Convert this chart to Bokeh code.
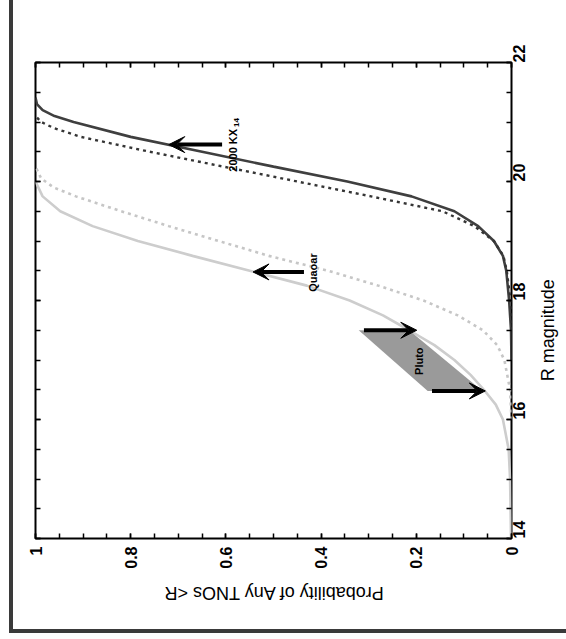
import math
import numpy as np
from bokeh.plotting import figure
from bokeh.models import (Range1d, FixedTicker, LinearAxis, ColumnDataSource, Arrow,
                          VeeHead, Div, Grid)
from bokeh.layouts import column, row
from bokeh.core.properties import value
from bokeh.embed import file_html
from bokeh.resources import INLINE

# ---------------- data ----------------
quaoar_solid_R = [14.0, 14.5, 15.0, 15.5, 16.0, 16.25, 16.5, 16.75, 17.0, 17.25, 17.5,
                  17.75, 18.0, 18.25, 18.5, 18.75, 19.0, 19.25, 19.5, 19.75, 20.0]
quaoar_solid_p = [0.001, 0.002, 0.003, 0.006, 0.018, 0.033, 0.058, 0.086, 0.12, 0.162, 0.215,
                  0.27, 0.34, 0.43, 0.55, 0.67, 0.785, 0.88, 0.948, 0.985, 1.0]

quaoar_dot_R = [16.0, 16.5, 17.0, 17.25, 17.5, 17.75, 18.0, 18.25, 18.5, 18.75, 19.0,
                19.25, 19.5, 19.75, 19.9, 20.05, 20.25]
quaoar_dot_p = [0.0, 0.003, 0.015, 0.03, 0.06, 0.113, 0.185, 0.28, 0.385, 0.51, 0.615,
                0.72, 0.82, 0.915, 0.962, 0.988, 1.0]

kx14_solid_R = [17.0, 17.5, 18.0, 18.5, 18.75, 19.0, 19.25, 19.5, 19.75, 20.0, 20.25,
                20.5, 20.75, 21.0, 21.1, 21.2, 21.3, 21.41]
kx14_solid_p = [0.0, 0.001, 0.005, 0.011, 0.018, 0.037, 0.07, 0.12, 0.21, 0.345, 0.5,
                0.65, 0.8, 0.92, 0.96, 0.985, 0.997, 1.0]

kx14_dot_R = [17.5, 18.0, 18.5, 18.75, 19.0, 19.25, 19.5, 19.75, 20.0, 20.25, 20.5,
              20.75, 20.9, 21.0, 21.1]
kx14_dot_p = [0.0, 0.002, 0.01, 0.017, 0.037, 0.078, 0.145, 0.295, 0.45, 0.605, 0.76,
              0.905, 0.962, 0.988, 1.0]

pluto_box_p = [0.321, 0.212, 0.061, 0.176]
pluto_box_R = [17.50, 17.48, 16.48, 16.48]

arrow_R = [20.62, 18.48, 17.50, 16.48]
arrow_p_from = [0.608, 0.436, 0.310, 0.167]
arrow_p_to = [0.720, 0.543, 0.199, 0.055]

label_text = ["2000 KX", "Quaoar", "Pluto"]
label_p = [0.585, 0.418, 0.195]
label_R = [20.525, 18.47, 16.98]
sub_text = ["14"]
sub_p = [0.577]
sub_R = [20.99]

prob_ticks = [0, 0.2, 0.4, 0.6, 0.8, 1]
prob_labels = ["0", "0.2", "0.4", "0.6", "0.8", "1"]
mag_ticks = [14, 16, 18, 20, 22]
mag_labels = ["14", "16", "18", "20", "22"]

x_title = "Probability of Any TNOs <R"
y_title = "R magnitude"

FONT = "Liberation Sans"
LINK = "#3a3a3a"


def bare(fig):
    for r in list(fig.center):
        if isinstance(r, Grid):
            r.visible = False
    fig.outline_line_color = None
    fig.background_fill_color = None
    fig.border_fill_color = None


# ---------------- main figure ----------------
p = figure(width=524, height=575, x_range=Range1d(1, 0), y_range=Range1d(14, 22),
           x_axis_location=None, y_axis_location=None, toolbar_location=None,
           output_backend="svg", min_border_left=22, min_border_right=26,
           min_border_top=62, min_border_bottom=37)
bare(p)
p.outline_line_color = "black"
p.outline_line_width = 2
p.background_fill_color = "white"
p.border_fill_color = "white"

x_ticker = FixedTicker(ticks=prob_ticks, minor_ticks=np.arange(0, 1.0001, 0.05).round(2).tolist())
y_ticker = FixedTicker(ticks=mag_ticks, minor_ticks=np.arange(14, 22.001, 0.5).tolist())


def make_axis(ticker, show_labels):
    ax = LinearAxis(ticker=ticker)
    ax.axis_line_color = None
    ax.major_tick_in = 5
    ax.major_tick_out = 0
    ax.minor_tick_in = 5
    ax.minor_tick_out = 0
    ax.major_tick_line_color = "black"
    ax.minor_tick_line_color = "black"
    ax.major_tick_line_width = 1.5
    ax.minor_tick_line_width = 1.5
    if show_labels:
        ax.major_label_text_font = FONT
        ax.major_label_text_font_style = "bold"
        ax.major_label_text_font_size = "16px"
        ax.major_label_text_color = "black"
    else:
        ax.major_label_text_color = None
    return ax


bottom = make_axis(x_ticker, True)
bottom.major_label_overrides = {t: s for t, s in zip(prob_ticks, prob_labels)}
bottom.major_label_orientation = math.pi / 2
bottom.major_label_standoff = 8
p.add_layout(bottom, "below")

top = make_axis(x_ticker, False)
p.add_layout(top, "above")

right = make_axis(y_ticker, True)
right.major_label_overrides = {t: s for t, s in zip(mag_ticks, mag_labels)}
right.major_label_orientation = math.pi / 2
right.major_label_standoff = 7
p.add_layout(right, "right")

left = make_axis(y_ticker, False)
p.add_layout(left, "left")

# curves
p.line(quaoar_solid_p, quaoar_solid_R, line_color="#cdcdcd", line_width=2.6)
p.line(quaoar_dot_p, quaoar_dot_R, line_color="#c6c6c6", line_width=2.6, line_dash="3 4")
p.line(kx14_solid_p, kx14_solid_R, line_color="#3f3f3f", line_width=2.6)
p.line(kx14_dot_p, kx14_dot_R, line_color="#353535", line_width=2.4, line_dash="3 4")

# Pluto band
p.patch(pluto_box_p, pluto_box_R, fill_color="#9a9a9a", line_color=None)

# arrows
arrow_src = ColumnDataSource(dict(x0=arrow_p_from, y0=arrow_R, x1=arrow_p_to, y1=arrow_R))
p.add_layout(Arrow(x_start="x0", y_start="y0", x_end="x1", y_end="y1", source=arrow_src,
                   line_width=4, line_color="black",
                   end=VeeHead(size=16, fill_color="black", line_color="black", line_width=1)))

# annotation texts
p.text(x=label_p, y=label_R, text=label_text, angle=math.pi / 2,
       text_align="center", text_baseline="middle", text_font=value(FONT),
       text_font_style="bold", text_font_size="11px", text_color="black")
p.text(x=sub_p, y=sub_R, text=sub_text, angle=math.pi / 2,
       text_align="center", text_baseline="middle", text_font=value(FONT),
       text_font_style="bold", text_font_size="8px", text_color="black")

# ---------------- axis titles (rotated like the original page) ----------------
ry = figure(width=22, height=575, x_range=Range1d(0, 22), y_range=p.y_range,
            x_axis_location=None, y_axis_location=None, toolbar_location=None,
            output_backend="svg", min_border_left=0, min_border_right=0,
            min_border_top=62, min_border_bottom=37)
bare(ry)
ry.text(x=[0.5], y=[17.5], text=[y_title], angle=math.pi / 2,
        text_align="center", text_baseline="top", text_font=value(FONT),
        text_font_size="18px", text_color="black")

bx = figure(width=546, height=54, x_range=p.x_range, y_range=Range1d(54, 0),
            x_axis_location=None, y_axis_location=None, toolbar_location=None,
            output_backend="svg", min_border_left=22, min_border_right=48,
            min_border_top=0, min_border_bottom=0)
bare(bx)
bx.text(x=[0.5], y=[17], text=[x_title], angle=math.pi,
        text_align="center", text_baseline="middle", text_font=value(FONT),
        text_font_size="18px", text_color="black")

# ---------------- outer border ----------------
gap_left = Div(text="", width=9, height=629, margin=0)
left_bar = Div(text="", width=4, height=629, margin=0, styles={"background-color": LINK})
gap_bottom = Div(text="", width=9, height=4, margin=0)
bottom_bar = Div(text="", width=557, height=4, margin=0, styles={"background-color": LINK})

plot_block = column(row(p, ry, spacing=0), bx, spacing=0)
layout = column(row(gap_left, left_bar, plot_block, spacing=0),
                row(gap_bottom, bottom_bar, spacing=0), spacing=0)

open("out.html", "w").write(file_html(layout, INLINE))
